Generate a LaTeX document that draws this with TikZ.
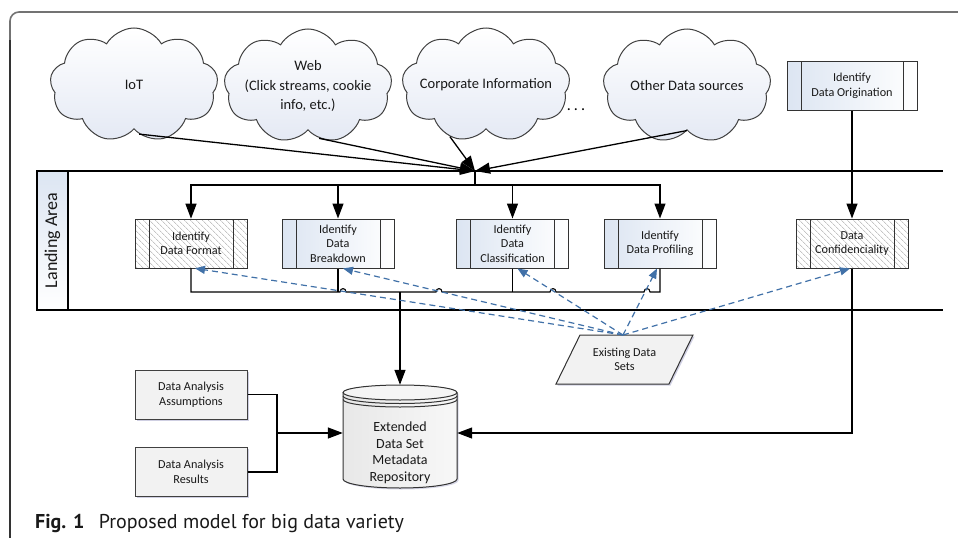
\documentclass[tikz,border=0pt]{standalone}
\usepackage{fontspec}
\setmainfont{Carlito}
\newfontfamily\capfamily{PT Sans}
\usetikzlibrary{shapes.symbols,shapes.geometric,arrows.meta,patterns.meta,shadows}
\definecolor{dashcol}{RGB}{65,113,168}
\definecolor{procb}{RGB}{220,229,242}
\definecolor{cloudb}{RGB}{228,233,244}
\definecolor{boxg}{RGB}{242,242,242}
\definecolor{framec}{RGB}{115,115,115}
\definecolor{hatchc}{RGB}{165,165,165}
\definecolor{txtc}{RGB}{25,25,25}
\newcommand\cldfnt{\fontsize{14.5}{19.5}\selectfont}
\newcommand\bxfnt{\fontsize{12.2}{14.5}\selectfont}
\newcommand\cylfnt{\fontsize{14}{16.5}\selectfont}
\begin{document}
\begin{tikzpicture}[x=1pt,y=-1pt,
  conn/.style={line width=1.3pt, black},
  arr/.style={conn, -{Triangle[length=15pt,width=11pt]}},
  dasharr/.style={dashcol, line width=1.2pt, dash pattern=on 6pt off 4pt, -{Triangle[length=10pt,width=8pt]}},
  cloudsty/.style={cloud, cloud puffs=9, cloud puff arc=120, aspect=1.47, draw=black!75, line width=1pt,
     top color=white, bottom color=cloudb, minimum width=168pt, minimum height=114pt, inner sep=0pt},
  cldtxt/.style={font=\cldfnt, align=center, text=txtc},
  proc/.style={draw=black!80, line width=1pt, minimum width=112pt, minimum height=49pt, inner sep=1pt,
     align=center, font=\bxfnt, text=txtc,
     path picture={\draw[black!80, line width=1pt]
        ([xshift=14pt]path picture bounding box.north west) -- ([xshift=14pt]path picture bounding box.south west)
        ([xshift=-14pt]path picture bounding box.north east) -- ([xshift=-14pt]path picture bounding box.south east);}},
  procshade/.style={left color=procb, right color=white},
  hatched/.style={pattern={Lines[angle=-45,distance=4pt,line width=0.6pt]}, pattern color=hatchc},
  shad/.style={drop shadow={shadow xshift=1.5pt, shadow yshift=-1.5pt, opacity=0.3, fill=blue!25!gray}},
  gbox/.style={draw=black!75, line width=1pt, fill=boxg, minimum width=112pt, minimum height=49pt,
     align=center, font=\bxfnt, text=txtc, shad}
]
\useasboundingbox (0,0) rectangle (958,538);
% frame
\draw[framec, line width=1.6pt, rounded corners=9pt] (10,40) -- (10,12) -- (958,12);
\draw[black!80, line width=1.1pt] (10,40) -- (10,538);

% clouds
\node[cloudsty, label={[cldtxt]center:IoT}] (iot) at (134,85) {};
\node[cloudsty, label={[cldtxt]center:{Web\\(Click streams, cookie\\info, etc.)}}] (web) at (308,86) {};
\node[cloudsty, label={[cldtxt]center:Corporate Information}] (corp) at (486,85) {};
\node[cloudsty, label={[cldtxt]center:Other Data sources}] (other) at (687,86) {};
\node[font=\fontsize{16}{18}\selectfont] (dots) at (576,110) {.\hspace{3pt}.\hspace{3pt}.};

% landing area lane
\draw[line width=1.1pt] (37,171) -- (943,171);
\draw[line width=1.1pt] (37,310) -- (943,310);
\node[draw, line width=1.1pt, rotate=90, minimum width=139pt, minimum height=31pt, inner sep=0pt,
      top color=procb, bottom color=white, font=\fontsize{18}{20}\selectfont, text=txtc] (lane) at (52.5,240.5) {Landing Area};

% process boxes
\node[proc, procshade] (orig) at (852,86) [minimum width=130pt] {Identify\\Data Origination};
\node[proc, hatched] (fmt) at (191,243.5) {Identify\\Data Format};
\node[proc, procshade] (brk) at (338,243.5) {Identify\\Data\\Breakdown};
\node[proc, procshade] (cls) at (512.5,243.5) {Identify\\Data\\Classification};
\node[proc, procshade] (prof) at (660,243.5) {Identify\\Data Profiling};
\node[proc, hatched] (conf) at (852,243.5) {Data\\Confidenciality};

% cloud arrows to hub
\coordinate (hub) at (475,171);
\coordinate (split) at (475,185);
\draw[arr] (iot.-84) -- (hub);
\draw[arr] (web.-78) -- (hub);
\draw[arr] (corp.-125) -- (hub);
\draw[arr] (other.south) -- (hub);
\draw[conn] (hub) -- (split);
\draw[arr] (split) -| (fmt.north);
\draw[arr] (split) -| (brk.north);
\draw[arr] (split) -| (cls.north);
\draw[arr] (split) -| (prof.north);
\draw[arr] (orig.south) -- (conf.north);

% repository cylinder
\fill[left color=black!9, right color=black!3, drop shadow={shadow xshift=1.5pt, shadow yshift=-1.5pt, opacity=0.25, fill=blue!25!gray}]
   (343,392.5) -- (343,479)
   arc[start angle=180,end angle=360,x radius=57pt,y radius=9pt] -- (457,392.5)
   arc[start angle=0,end angle=180,x radius=57pt,y radius=7.5pt] -- cycle;
\draw[black!80, line width=1pt] (343,392.5) -- (343,479)
   arc[start angle=180,end angle=360,x radius=57pt,y radius=9pt] -- (457,392.5);
\draw[black!80, line width=1pt, fill=black!4] (400,392.5) ellipse [x radius=57pt, y radius=7.5pt];
\draw[black!80, line width=1pt] (343,396) arc[start angle=180,end angle=360,x radius=57pt,y radius=7.5pt];
\draw[black!80, line width=1pt] (343,399.5) arc[start angle=180,end angle=360,x radius=57pt,y radius=7.5pt];
\node[minimum width=114pt, minimum height=96pt, inner sep=0pt] (repo) at (400,433) {};
\node[font=\cylfnt, align=center, text=txtc] (repotxt) at (400,453) {Extended\\Data Set\\Metadata\\Repository};

% bus from landing boxes
\coordinate (bus) at (400,292);
\draw[conn, line width=1.1pt] (fmt.south) |- (340,292) .. controls (340,287.5) and (346,287.5) .. (346,292)
   -- (436,292) .. controls (436,287.5) and (442,287.5) .. (442,292)
   -- (550,292) .. controls (550,287.5) and (556,287.5) .. (556,292)
   -- (644,292) .. controls (644,287.5) and (650,287.5) .. (650,292) -| (prof.south);
\draw[conn, line width=1.1pt] (brk.south) -- (brk.south |- bus);
\draw[conn, line width=1.1pt] (cls.south) -- (cls.south |- bus);
\draw[arr] (bus) -- (repo.north);
\draw[arr] (conf.south) |- (repo.east);

% data analysis boxes
\node[gbox] (assum) at (191,394.5) {Data Analysis\\Assumptions};
\node[gbox] (res) at (191,472) {Data Analysis\\Results};
\coordinate (mrg) at (277,433);
\draw[conn] (assum.east) -| (mrg);
\draw[conn] (res.east) -| (mrg);
\draw[arr] (mrg) -- (repo.west);

% existing data sets
\draw[black!80, line width=1pt, fill=boxg, shad] (580,335) -- (693,335) -- (669,384) -- (556,384) -- cycle;
\node[align=center, font=\bxfnt, text=txtc] (eds) at (624.5,359.5) {Existing Data\\Sets};
\coordinate (src) at (623,335);
\draw[dasharr] (src) -- ([xshift=4pt]fmt.south);
\draw[dasharr] (src) -- ([xshift=5pt]brk.south);
\draw[dasharr] (src) -- ([xshift=5pt]cls.south);
\draw[dasharr] (src) -- ([xshift=-3pt]prof.south);
\draw[dasharr] (src) -- ([xshift=-2pt]conf.south);

% caption
\node[anchor=base west, font={\capfamily\fontsize{20}{24}\selectfont}, text=txtc, inner sep=0pt] (cap) at (35,528)
   {\textbf{Fig. 1}\hspace{0.45em} Proposed model for big data variety};
\end{tikzpicture}
\end{document}
